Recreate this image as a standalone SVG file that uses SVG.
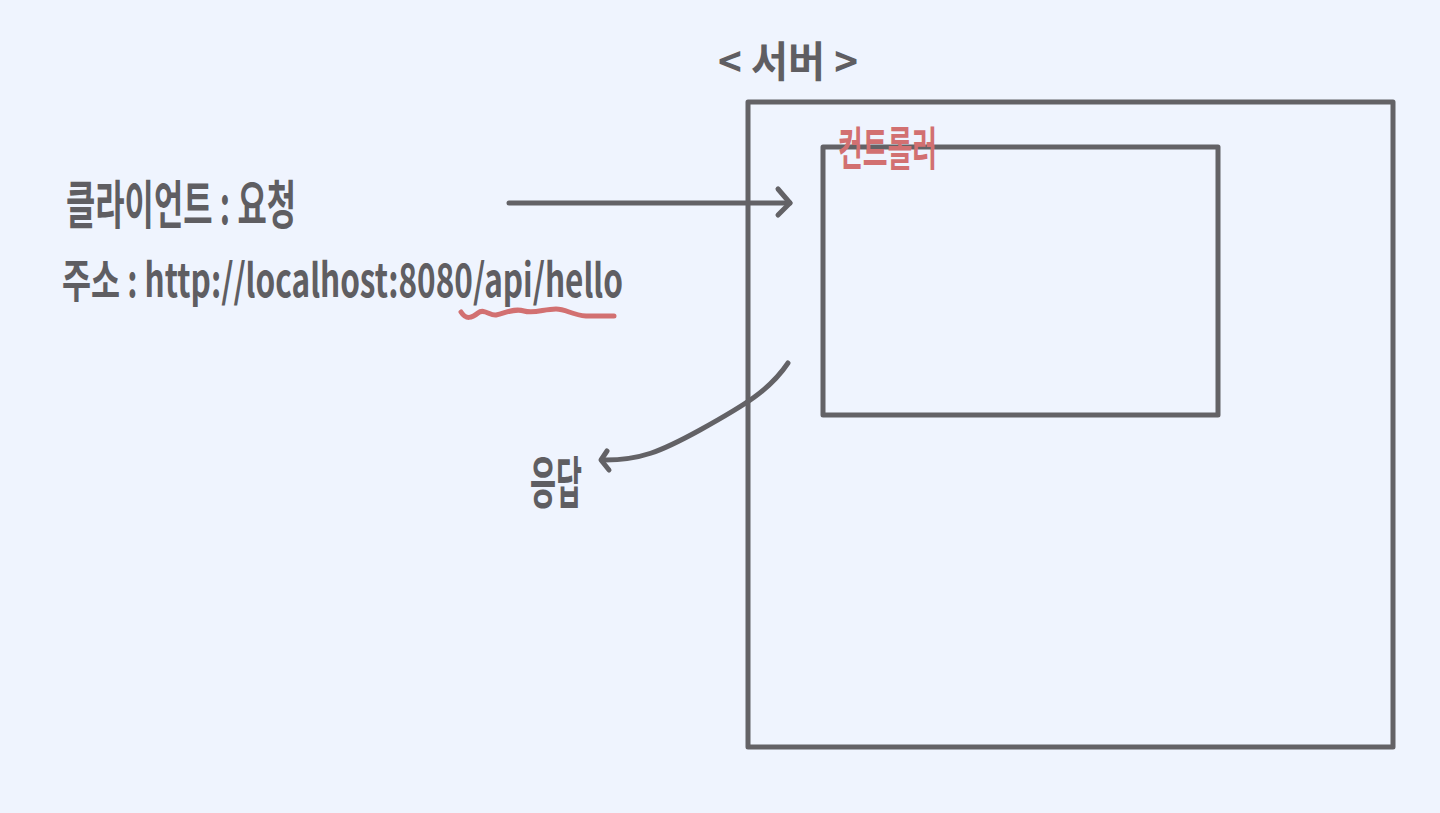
<svg xmlns="http://www.w3.org/2000/svg" width="1440" height="813" viewBox="0 0 1440 813">
<defs>
<style>
.ln{fill:none;stroke:#636266;stroke-width:5;stroke-linecap:round;stroke-linejoin:round}
.red{fill:none;stroke:#D27071;stroke-width:5;stroke-linecap:round;stroke-linejoin:round}
.t{font-family:"Noto Sans CJK KR","Noto Sans",sans-serif;font-weight:bold;fill:#5F5E62}
.tr{font-family:"Noto Sans CJK KR","Noto Sans",sans-serif;font-weight:bold;fill:#D27071}
</style>
</defs>
<rect width="1440" height="813" fill="#EFF4FE"/>
<g id="server">
<text class="t" x="718" y="77" font-size="42" textLength="140" lengthAdjust="spacingAndGlyphs">&lt; 서버 &gt;</text>
<rect class="ln" x="748" y="102" width="645" height="645"/>
</g>
<g id="controller">
<rect class="ln" x="823" y="147" width="395" height="268"/>
<text class="tr" x="838" y="165" font-size="46" textLength="99" lengthAdjust="spacingAndGlyphs">컨트롤러</text>
</g>
<g id="client">
<text class="t" x="66" y="224" font-size="52" textLength="230" lengthAdjust="spacingAndGlyphs">클라이언트 : 요청</text>
<text class="t" x="62" y="297" font-size="46" textLength="561" lengthAdjust="spacingAndGlyphs">주소 : http://localhost:8080/api/hello</text>
<path class="red" d="M461,312 C466,320 472,318 478,313 C484,308 490,316 496,315 C506,313 514,308 524,311 C534,314 544,309 556,309 C566,309 572,315 586,316 L614,316"/>
</g>
<g id="response">
<text class="t" x="530" y="503" font-size="56" textLength="52" lengthAdjust="spacingAndGlyphs">응답</text>
</g>
<g id="connectors">
<path class="ln" d="M509,203 L790,203"/>
<path class="ln" d="M778,189 L790,203 L778,215"/>
<path class="ln" d="M788,363 C770,390 745,405 700,430 C660,452 640,460 605,460"/>
<path class="ln" d="M607,451 L601,460 L609,470"/>
</g>
</svg>
